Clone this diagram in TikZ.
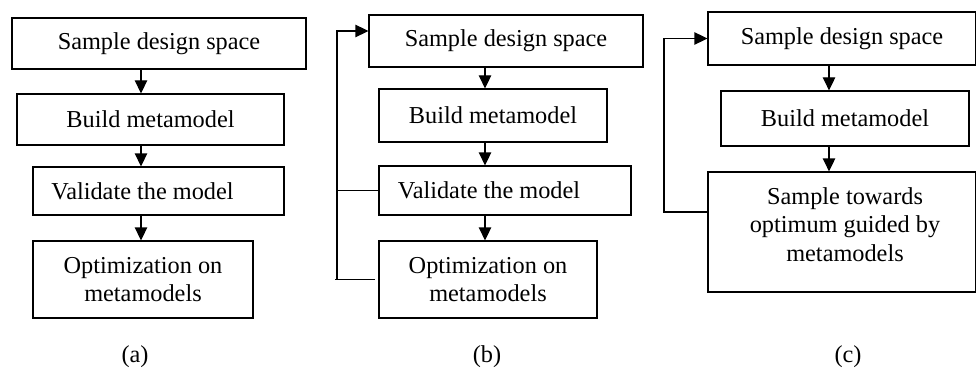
\documentclass[tikz,border=0pt]{standalone}
\usepackage{fontspec}
\setmainfont{Liberation Serif}
\usetikzlibrary{arrows.meta}
\begin{document}
\begin{tikzpicture}[x=1pt,y=-1pt,
  box/.style={draw, line width=1.3pt, inner sep=0pt, align=center, font=\fontsize{24.3}{28.5}\selectfont},
  lbl/.style={inner sep=0pt, align=center, font=\fontsize{24.3}{28.5}\selectfont},
  arr/.style={line width=1.3pt, -{Triangle[length=13pt,width=12.5pt]}},
  ln/.style={line width=1.3pt}]
\useasboundingbox (0,0) rectangle (976,377);
% ---------- (a)
\node[box, minimum width=294pt, minimum height=51pt] (A1) at (159,43.5) {Sample design space};
\node[box, minimum width=267pt, minimum height=51pt] (A2) at (150.5,119.5) {Build metamodel};
\node[box, minimum width=251pt, minimum height=48pt] (A3) at (158.5,191) {\hspace*{-32pt}Validate the model};
\node[box, minimum width=220pt, minimum height=77pt] (A4) at (143,279.5) {Optimization on\\metamodels};
\coordinate (ax) at (141,0);
\draw[arr] (A1.south -| ax) -- (A2.north -| ax);
\draw[arr] (A2.south -| ax) -- (A3.north -| ax);
\draw[arr] (A3.south -| ax) -- (A4.north -| ax);
\node[lbl] (la) at (135,357) {(a)};
% ---------- (b)
\node[box, minimum width=274pt, minimum height=52pt] (B1) at (506,41) {Sample design space};
\node[box, minimum width=228pt, minimum height=53pt] (B2) at (493,115.5) {Build metamodel};
\node[box, minimum width=252pt, minimum height=49pt] (B3) at (505,190.5) {\hspace*{-32pt}Validate the model};
\node[box, minimum width=218pt, minimum height=77pt] (B4) at (488,279.5) {Optimization on\\metamodels};
\coordinate (bx) at (485,0);
\draw[arr] (B1.south -| bx) -- (B2.north -| bx);
\draw[arr] (B2.south -| bx) -- (B3.north -| bx);
\draw[arr] (B3.south -| bx) -- (B4.north -| bx);
\coordinate (bv) at (337,0);
\coordinate (bb) at (335,279.5);
\coordinate (B1in) at ([yshift=10pt]B1.west);
\draw[ln] (bb) -- ([xshift=-3pt]B4.west);
\draw[arr] (bv |- B4.west) -- (bv |- B1in) -- (B1in);
\draw[ln] (bv |- B3.west) -- (B3.west);
\node[lbl] (lb) at (487,357) {(b)};
% ---------- (c)
\node[box, minimum width=268pt, minimum height=53pt] (C1) at (842,38.5) {Sample design space};
\node[box, minimum width=248pt, minimum height=55pt] (C2) at (845,118.5) {Build metamodel};
\node[box, minimum width=268pt, minimum height=120pt] (C3) at (842,232) {};
\node[lbl] (C3t) at (845,224.5) {Sample towards\\optimum guided by\\metamodels};
\coordinate (cx) at (829,0);
\draw[arr] (C1.south -| cx) -- (C2.north -| cx);
\draw[arr] (C2.south -| cx) -- (C3.north -| cx);
\coordinate (cv) at (664,0);
\coordinate (C3out) at ([yshift=20pt]C3.west);
\draw[arr] (C3out) -- (cv |- C3out) -- (cv |- C1.west) -- (C1.west);
\node[lbl] (lc) at (848,357) {(c)};
\end{tikzpicture}
\end{document}
